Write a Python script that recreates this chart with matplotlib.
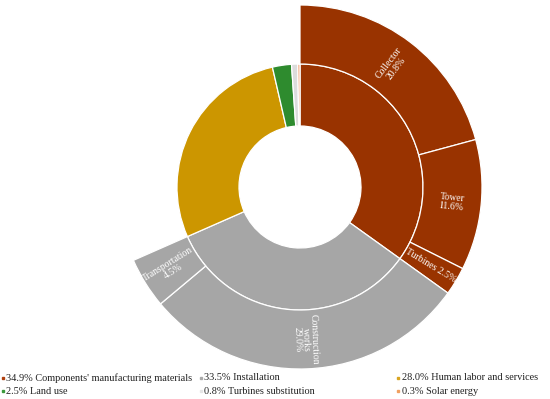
import numpy as np
import matplotlib
matplotlib.use("Agg")
import matplotlib.pyplot as plt

# ---- data ----
inner_labels = ["Components' manufacturing materials", "Installation",
                "Human labor and services", "Land use",
                "Turbines substitution", "Solar energy"]
inner_values = [34.9, 33.5, 28.0, 2.5, 0.8, 0.3]
inner_colors = ["#993300", "#A6A6A6", "#CC9600", "#2E8B2E", "#DCDCDC", "#F4A477"]
legend_colors = ["#B04010", "#AAAAAA", "#D9A520", "#3C9A3C", "#E6E6E6", "#F0A060"]

outer_labels = ["Collector", "Tower", "Turbines", "Construction\nworks", "Transportation"]
outer_values = [20.8, 11.6, 2.5, 29.0, 4.5]
outer_parent = [0, 0, 0, 1, 1]
outer_label_fmt = ["{}\n{}%", "{}\n{}%", "{} {}%", "{}\n{}%", "{}\n{}%"]

W, H = 550, 399
fig = plt.figure(figsize=(W / 100, H / 100), dpi=100)
ax = fig.add_axes([0, 0, 1, 1])

cx, cy = 300, H - 187
r_hole, r_in, r_out = 61, 123, 182

ax.pie(inner_values, colors=inner_colors, radius=r_in, center=(cx, cy),
       startangle=90, counterclock=False,
       wedgeprops=dict(width=r_in - r_hole, edgecolor="white", linewidth=0.9))

rest = 100 - sum(outer_values)
outer_cols = [inner_colors[p] for p in outer_parent] + ["none"]
ax.pie(outer_values + [rest], colors=outer_cols, radius=r_out, center=(cx, cy),
       startangle=90, counterclock=False,
       wedgeprops=dict(width=r_out - r_in, edgecolor="white", linewidth=0.9))
ax.patches[-1].set_edgecolor("none")

# labels in outer ring
cum = 0.0
for lab, v, fmt in zip(outer_labels, outer_values, outer_label_fmt):
    mid = cum + v / 2
    cum += v
    ang = 90 - mid / 100 * 360
    rr = (r_in + r_out) / 2
    x = cx + rr * np.cos(np.radians(ang))
    y = cy + rr * np.sin(np.radians(ang))
    rot = ang
    while rot > 180:
        rot -= 360
    while rot <= -180:
        rot += 360
    if rot < -90:
        rot += 180
    elif rot > 90:
        rot -= 180
    txt = fmt.format(lab, f"{v:.1f}")
    ax.text(x, y, txt, rotation=rot, rotation_mode="anchor", ha="center", va="center",
            color="white", fontsize=7, family="Liberation Serif", linespacing=0.95)

ax.set_xlim(0, W)
ax.set_ylim(0, H)
ax.set_aspect("equal")
ax.axis("off")

# legend
col_x = [3, 201, 398]
row_y = [H - 378, H - 391]
for i, (lab, v, c) in enumerate(zip(inner_labels, inner_values, legend_colors)):
    col, row = i % 3, i // 3
    ax.plot(col_x[col], row_y[row], marker="s", markersize=1.7, color=c, linestyle="none")
    ax.text(col_x[col] + 3.5, row_y[row], f"{v:.1f}% {lab}", ha="left", va="center",
            fontsize=7.4, family="Liberation Serif", color="#222222")

fig.savefig("out.png", dpi=100)
